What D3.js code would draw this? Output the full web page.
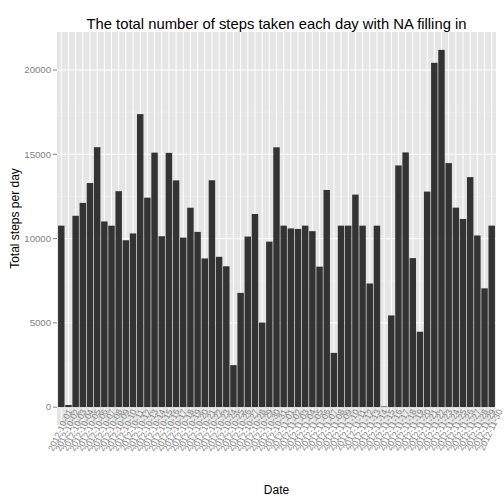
<!DOCTYPE html>
<html><head><meta charset="utf-8">
<script src="https://cdn.jsdelivr.net/npm/d3@7"></script>
<style>body{margin:0;background:#fff}svg{display:block}text{font-family:"Liberation Sans",Arial,sans-serif}</style>
</head><body><svg id="c" width="504" height="504"></svg>
<script>
const dates = ["2012-10-01","2012-10-02","2012-10-03","2012-10-04","2012-10-05","2012-10-06","2012-10-07","2012-10-08","2012-10-09","2012-10-10","2012-10-11","2012-10-12","2012-10-13","2012-10-14","2012-10-15","2012-10-16","2012-10-17","2012-10-18","2012-10-19","2012-10-20","2012-10-21","2012-10-22","2012-10-23","2012-10-24","2012-10-25","2012-10-26","2012-10-27","2012-10-28","2012-10-29","2012-10-30","2012-10-31","2012-11-01","2012-11-02","2012-11-03","2012-11-04","2012-11-05","2012-11-06","2012-11-07","2012-11-08","2012-11-09","2012-11-10","2012-11-11","2012-11-12","2012-11-13","2012-11-14","2012-11-15","2012-11-16","2012-11-17","2012-11-18","2012-11-19","2012-11-20","2012-11-21","2012-11-22","2012-11-23","2012-11-24","2012-11-25","2012-11-26","2012-11-27","2012-11-28","2012-11-29","2012-11-30"];
const steps = [10766,126,11352,12116,13294,15420,11015,10766,12811,9900,10304,17382,12426,15098,10139,15084,13452,10056,11829,10395,8821,13460,8918,8355,2492,6778,10119,11458,5018,9819,15414,10766,10600,10571,10766,10439,8334,12883,3219,10766,10766,12608,10765,7336,10766,41,5441,14339,15110,8841,4472,12787,20427,21194,14478,11834,11162,13646,10183,7047,10766];
const yTicks = [0,5000,10000,15000,20000];
const yMinor = [2500,7500,12500,17500];

const svg = d3.select("#c");
const L=57,R=496,T=32,B=425;
const maxV = d3.max(steps), pad = maxV*0.05;
const y = d3.scaleLinear().domain([-pad,maxV+pad]).range([B,T]);
const unit = (R-L)/(dates.length+1.2);
const x = d3.scaleBand().domain(dates).range([L+0.6*unit-0.5*unit, R-0.6*unit+0.5*unit]).paddingInner(0.1).paddingOuter(0.05);

svg.append("rect").attr("x",L).attr("y",T).attr("width",R-L).attr("height",B-T).attr("fill","#e5e5e5");
svg.selectAll(".mn").data(yMinor).enter().append("line").attr("x1",L).attr("x2",R).attr("y1",d=>y(d)).attr("y2",d=>y(d)).attr("stroke","#f2f2f2").attr("stroke-width",0.5);
svg.selectAll(".mj").data(yTicks).enter().append("line").attr("x1",L).attr("x2",R).attr("y1",d=>y(d)).attr("y2",d=>y(d)).attr("stroke","#fff").attr("stroke-width",1);
svg.selectAll(".vg").data(dates).enter().append("line").attr("y1",T).attr("y2",B).attr("x1",d=>x(d)+x.bandwidth()/2).attr("x2",d=>x(d)+x.bandwidth()/2).attr("stroke","#fff").attr("stroke-width",1);

svg.selectAll(".bar").data(dates).enter().append("rect")
  .attr("x",d=>x(d)).attr("width",x.bandwidth())
  .attr("y",(d,i)=>y(steps[i])).attr("height",(d,i)=>y(0)-y(steps[i]))
  .attr("fill","#333333");

// y axis
const yg = svg.append("g");
yTicks.forEach(t=>{
  yg.append("line").attr("x1",L-4).attr("x2",L).attr("y1",y(t)).attr("y2",y(t)).attr("stroke","#7f7f7f");
  yg.append("text").attr("x",L-6).attr("y",y(t)).attr("dy","0.35em").attr("text-anchor","end").attr("font-size",9.6).attr("fill","#7f7f7f").text(t);
});
// x tick labels
svg.selectAll(".xl").data(dates).enter().append("text")
  .attr("transform",d=>`translate(${x(d)+x.bandwidth()/2+11},411) rotate(-65)`)
  .attr("text-anchor","end").attr("font-size",8.8).attr("fill","#7f7f7f").text(d=>d);

svg.append("text").attr("x",(L+R)/2).attr("y",29).attr("text-anchor","middle").attr("font-size",14.8).attr("fill","#000").text("The total number of steps taken each day with NA filling in");
svg.append("text").attr("x",(L+R)/2).attr("y",494).attr("text-anchor","middle").attr("font-size",12).attr("fill","#000").text("Date");
svg.append("text").attr("transform",`translate(19,${(T+B)/2-10}) rotate(-90)`).attr("text-anchor","middle").attr("font-size",12).attr("fill","#000").text("Total steps per day");
</script></body></html>
